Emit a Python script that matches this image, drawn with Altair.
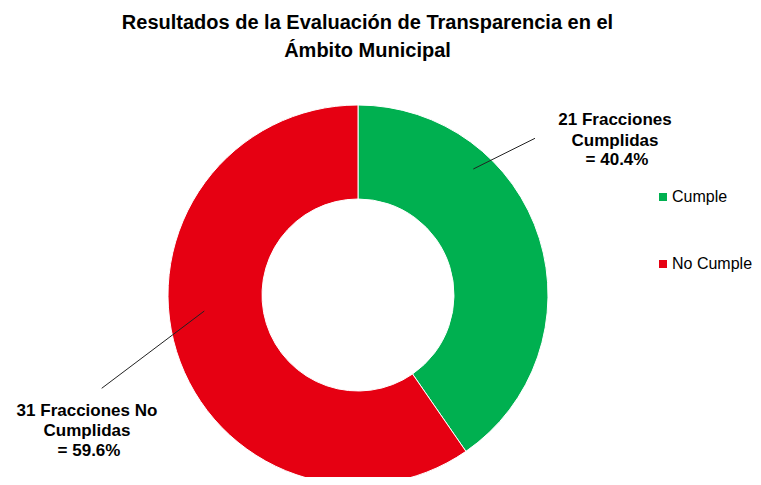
import altair as alt
import pandas as pd

# ---- data ----
categories = ["Cumple", "No Cumple"]
counts = [21, 31]
percents = [40.4, 59.6]
colors = ["#00B050", "#E60012"]

title_lines = ["Resultados de la Evaluación de Transparencia en el", "Ámbito Municipal"]
label_first = ["21 Fracciones", "31 Fracciones  No"]
label_second = ["Cumplidas", "Cumplidas"]
label_third = ["= 40.4%", "= 59.6%"]

FONT = "Liberation Sans"
CX, CY = 350, 287

slices = pd.DataFrame({"cat": categories, "count": counts, "idx": [0, 1]})

arc = alt.Chart(slices).mark_arc(
    outerRadius=190, innerRadius=96, stroke="white", strokeWidth=1
).encode(
    theta=alt.Theta("count:Q", stack=True),
    order=alt.Order("idx:Q"),
    x=alt.value(CX),
    y=alt.value(CY),
    color=alt.Color(
        "cat:N",
        scale=alt.Scale(domain=categories, range=colors),
        legend=alt.Legend(
            orient="none", legendX=647, legendY=181, title=None,
            symbolType="square", symbolSize=64, symbolStrokeWidth=0,
            labelFontSize=16, labelFont=FONT, labelColor="#000000",
            rowPadding=51, labelOffset=1, padding=0, labelLimit=200,
        ),
    ),
)

# ---- annotation texts ----
texts = pd.DataFrame({
    "t": title_lines
         + [label_first[0], label_second[0], label_third[0]]
         + [label_first[1], label_second[1], label_third[1]],
    "x": [359.5, 359.5, 607, 607, 609, 79, 79, 81],
    "y": [21, 49, 117, 137.5, 157, 407.7, 428, 447.7],
    "size": [20, 20, 17, 17, 17, 17, 17, 17],
})

text_layer = alt.Chart(texts).mark_text(
    font=FONT, fontWeight="bold", color="#000000", align="center", baseline="alphabetic"
).encode(
    x=alt.X("x:Q", scale=None),
    y=alt.Y("y:Q", scale=None),
    text="t:N",
    size=alt.Size("size:Q", scale=None, legend=None),
)

leaders = pd.DataFrame({
    "x1": [465.3, 196.3], "y1": [161, 303],
    "x2": [527, 93.7], "y2": [130.3, 380.3],
})
leader_layer = alt.Chart(leaders).mark_rule(color="#222222", strokeWidth=1).encode(
    x=alt.X("x1:Q", scale=None),
    y=alt.Y("y1:Q", scale=None),
    x2="x2:Q",
    y2="y2:Q",
)

chart = alt.layer(arc, leader_layer, text_layer).properties(
    width=745, height=469,
    autosize=alt.AutoSizeParams(type="none"),
    padding=0,
    background="white",
).configure_view(stroke=None)

chart.save("out.html", embed_options={"renderer": "svg", "actions": False})
